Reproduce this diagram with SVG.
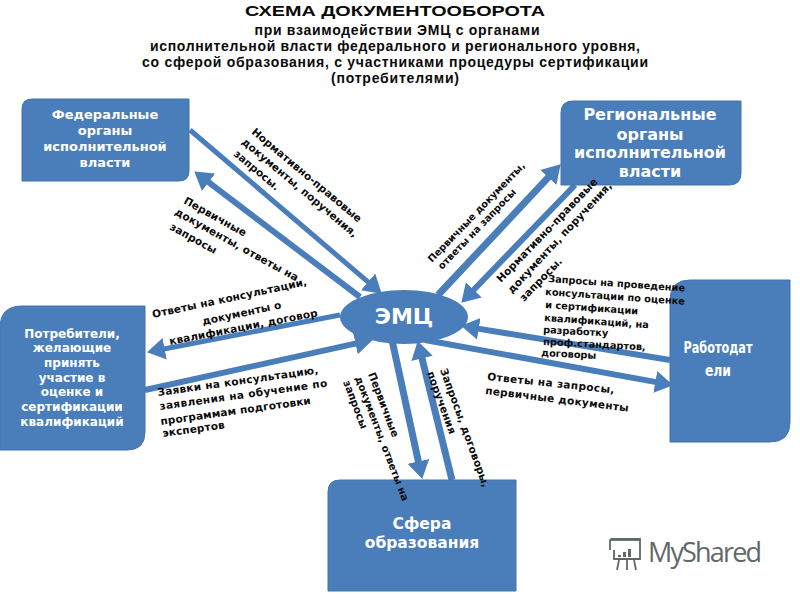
<svg xmlns="http://www.w3.org/2000/svg" width="800" height="600" viewBox="0 0 800 600">
<style>
text{font-family:"DejaVu Sans","Liberation Sans",sans-serif;font-weight:700;fill:#0a0a0a}
.t{font-family:"Liberation Sans",Arial,sans-serif;text-anchor:middle;font-size:14px}
.n{fill:#fff;text-anchor:middle}
.l{font-size:10.5px;letter-spacing:.15px}
.s{font-size:9.8px;letter-spacing:0}
.box{fill:#4a7ebb;stroke:#4273ad;stroke-width:1}
.c{stroke:#4a7ebb;fill:none;marker-end:url(#h)}
</style>
<defs>
<marker id="h" markerUnits="userSpaceOnUse" markerWidth="22" markerHeight="26" refX="1" refY="13" orient="auto">
<path d="M0 2L18 13L0 24Z" fill="#4a7ebb"/>
</marker>
</defs>
<rect width="800" height="600" fill="#fff"/>
<g id="title">
<text class="t" x="395" y="16" textLength="300" lengthAdjust="spacingAndGlyphs" style="font-size:15px">СХЕМА ДОКУМЕНТООБОРОТА</text>
<text class="t" x="397" y="35" textLength="285">при взаимодействии ЭМЦ с органами</text>
<text class="t" x="395" y="51" textLength="490">исполнительной власти федерального и регионального уровня,</text>
<text class="t" x="395" y="67" textLength="506">со сферой образования, с участниками процедуры сертификации</text>
<text class="t" x="395" y="83" textLength="128">(потребителями)</text>
</g>
<g id="connectors">
<line class="c" x1="190" y1="130" x2="368.8" y2="282.6" stroke-width="5"/>
<line class="c" x1="360" y1="297" x2="207.8" y2="181.7" stroke-width="6"/>
<line class="c" x1="340" y1="315" x2="163.7" y2="349" stroke-width="5"/>
<line class="c" x1="145" y1="390" x2="356.4" y2="343.4" stroke-width="6"/>
<line class="c" x1="392" y1="340" x2="418.6" y2="462.4" stroke-width="7"/>
<line class="c" x1="452" y1="480" x2="421.8" y2="357.5" stroke-width="7"/>
<line class="c" x1="425" y1="340" x2="656.3" y2="382.1" stroke-width="6"/>
<line class="c" x1="670" y1="360" x2="477.8" y2="328.6" stroke-width="6"/>
<line class="c" x1="575" y1="185" x2="473.1" y2="290.5" stroke-width="6"/>
<line class="c" x1="438" y1="295" x2="549" y2="176.7" stroke-width="7"/>
</g>
<g id="node-federal">
<path class="box" d="M32 99H189V171Q189 181 179 181H22V109Q22 99 32 99Z"/>
<text class="n" x="105" y="119" font-size="13">Федеральные</text><text class="n" x="105" y="135" font-size="13">органы</text><text class="n" x="105" y="151" font-size="13">исполнительной</text><text class="n" x="105" y="167" font-size="13">власти</text>
</g>
<g id="node-regional">
<path class="box" d="M573 101H741V173Q741 185 729 185H561V113Q561 101 573 101Z"/>
<text class="n" x="650" y="120" font-size="16">Региональные</text><text class="n" x="650" y="140" font-size="16">органы</text><text class="n" x="650" y="158" font-size="16">исполнительной</text><text class="n" x="650" y="177" font-size="16">власти</text>
</g>
<g id="node-emc">
<ellipse cx="404" cy="317" rx="64" ry="27" fill="#4a7ebb"/>
<text class="n" x="404" y="324" font-size="22">ЭМЦ</text>
</g>
<g id="node-consumers">
<path class="box" d="M22 306H145V432Q145 450 127 450H0V328Q0 306 22 306Z"/>
<text class="n" x="72" y="338" font-size="12">Потребители,</text><text class="n" x="72" y="352" font-size="12">желающие</text><text class="n" x="72" y="367" font-size="12">принять</text><text class="n" x="72" y="382" font-size="12">участие в</text><text class="n" x="72" y="396" font-size="12">оценке и</text><text class="n" x="72" y="411" font-size="12">сертификации</text><text class="n" x="72" y="426" font-size="12">квалификаций</text>
</g>
<g id="node-employers">
<path class="box" d="M690 280H790V422Q790 442 770 442H670V300Q670 280 690 280Z"/>
<text class="n" x="718" y="353" font-size="15" textLength="69" lengthAdjust="spacingAndGlyphs">Работодат</text><text class="n" x="718" y="376" font-size="15" textLength="26" lengthAdjust="spacingAndGlyphs">ели</text>
</g>
<g id="node-education">
<path class="box" d="M340 480H516V591H328V492Q328 480 340 480Z"/>
<text class="n" x="422" y="529" font-size="15.5">Сфера</text><text class="n" x="422" y="548" font-size="15.5">образования</text>
</g>
<g id="connector-labels">
<g transform="translate(251,133) rotate(40)"><text class="l">Нормативно-правовые</text></g>
<g transform="translate(241,143) rotate(40)"><text class="l">документы, поручения,</text></g>
<g transform="translate(233,155) rotate(40)"><text class="l">запросы.</text></g>
<g transform="translate(183,203) rotate(29)"><text class="l">Первичные</text></g>
<g transform="translate(174,214) rotate(29)"><text class="l">документы, ответы на</text></g>
<g transform="translate(169,229) rotate(29)"><text class="l">запросы</text></g>
<g transform="translate(153,318) rotate(-12)"><text class="l">Ответы на консультации,</text></g>
<g transform="translate(203,325) rotate(-12)"><text class="l">документы о</text></g>
<g transform="translate(170,345) rotate(-11)"><text class="l">квалификации, договор</text></g>
<g transform="translate(158,396) rotate(-8)"><text class="l" style="letter-spacing:.3px">Заявки на консультацию,</text></g>
<g transform="translate(160,410) rotate(-8)"><text class="l" style="letter-spacing:.4px">заявления на обучение по</text></g>
<g transform="translate(161,425) rotate(-8)"><text class="l">программам подготовки</text></g>
<g transform="translate(163,437) rotate(-8)"><text class="l">экспертов</text></g>
<g transform="translate(368,374) rotate(69)"><text class="s" style="font-size:10.5px">Первичные</text></g>
<g transform="translate(355,378) rotate(69)"><text class="s" style="font-size:10.2px">документы, ответы на</text></g>
<g transform="translate(343,382) rotate(69)"><text class="s" style="font-size:10.5px">запросы</text></g>
<g transform="translate(440,370) rotate(70)"><text class="l">Запросы, договоры,</text></g>
<g transform="translate(427,373) rotate(70)"><text class="l">поручения</text></g>
<g transform="translate(432,263) rotate(-46)"><text class="s">Первичные документы,</text></g>
<g transform="translate(442,270) rotate(-46)"><text class="s">ответы на запросы</text></g>
<g transform="translate(501,283) rotate(-46)"><text class="l">Нормативно-правовые</text></g>
<g transform="translate(512,294) rotate(-47)"><text class="l">документы, поручения,</text></g>
<g transform="translate(524,302) rotate(-46)"><text class="l">запросы.</text></g>
<g transform="translate(548,282) rotate(4)"><text class="s">Запросы на проведение</text></g>
<g transform="translate(545,295) rotate(4)"><text class="s">консультации по оценке</text></g>
<g transform="translate(545,308) rotate(4)"><text class="s">и сертификации</text></g>
<g transform="translate(544,321) rotate(4)"><text class="s">квалификаций, на</text></g>
<g transform="translate(543,333) rotate(3)"><text class="s">разработку</text></g>
<g transform="translate(543,345) rotate(3)"><text class="s">проф.стандартов,</text></g>
<g transform="translate(541,356) rotate(3)"><text class="s">договоры</text></g>
<g transform="translate(487,380) rotate(6)"><text class="l" style="letter-spacing:.4px">Ответы на запросы,</text></g>
<g transform="translate(485,394) rotate(7)"><text class="l" style="letter-spacing:.3px">первичные документы</text></g>
</g>
<g id="watermark">
<g fill="none" stroke="#5f6a66" stroke-width="1.8">
<path d="M610 550V541Q610 539 612 539H640V559H614V550"/>
<path d="M611 540H640"/>
<path d="M619 560L617 570M627 560V570M634 560L636 570"/>
</g>
<path d="M618 555h3v2h-3zM623 552h3v5h-3zM628 549h3v8h-3z" fill="#5f6a66"/>
<text x="648" y="562" style="font-family:'Open Sans',sans-serif;font-weight:400;fill:#62686a;font-size:27px" textLength="114">MyShared</text>
</g>
</svg>
